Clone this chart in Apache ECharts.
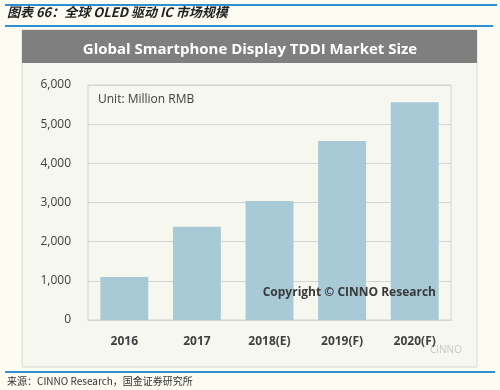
<!DOCTYPE html>
<html><head><meta charset="utf-8">
<script src="https://cdn.jsdelivr.net/npm/echarts@6/dist/echarts.min.js"></script>
<style>html,body{margin:0;padding:0;background:#fdfcf2;}#c{width:500px;height:390px;}</style>
</head><body><div id="c"></div>
<script>
const categories = ['2016','2017','2018(E)','2019(F)','2020(F)'];
const values = [1100, 2380, 3040, 4570, 5560];
const yTicks = [0, 1000, 2000, 3000, 4000, 5000, 6000];

const chart = echarts.init(document.getElementById('c'), null, {renderer:'canvas'});
const font = '"Open Sans", "Noto Sans", sans-serif';
chart.setOption({
  backgroundColor: '#fdfcf2',
  animation: false,
  graphic: [
    {type:'rect', shape:{x:22,y:30,width:455,height:337}, style:{fill:'#f6f7ee', stroke:'#d8d9d4', lineWidth:1}, z:-10},
    {type:'rect', shape:{x:22,y:30,width:455,height:33}, style:{fill:'#7f7f7f'}, z:-9},
    {type:'rect', shape:{x:5,y:4,width:492,height:2}, style:{fill:'#2e8fd3'}},
    {type:'rect', shape:{x:5,y:25,width:488,height:2}, style:{fill:'#2e8fd3'}},
    {type:'rect', shape:{x:5,y:371,width:490,height:2}, style:{fill:'#2e8fd3'}},
    {type:'text', left:7, top:6, style:{text:'图表 66：全球 OLED 驱动 IC 市场规模', font:'italic bold 13px "Noto Sans CJK SC", sans-serif', fill:'#222'}},
    {type:'text', left:7, top:376, style:{text:'来源：CINNO Research，国金证券研究所', font:'10px "Noto Sans CJK SC", sans-serif', fill:'#333'}},
    {type:'text', left:98, top:94, style:{text:'Unit: Million RMB', font:'12px '+font, fill:'#404040'}},
    {type:'text', right:64, top:287, z:10, style:{text:'Copyright © CINNO Research', font:'bold 12px '+font, fill:'#3a3a3a'}},
    {type:'text', left:430, top:345, style:{text:'CINNO', font:'10px '+font, fill:'#c8c8c8'}}
  ],
  title: {
    text: 'Global Smartphone Display TDDI Market Size',
    left: 'center', top: 37,
    textStyle: {color:'#ffffff', fontSize:15, fontWeight:'bold', fontFamily: font}
  },
  grid: {left:88, right:49, top:85, bottom:70, show:true, borderColor:'#d4d4d0', borderWidth:1, backgroundColor:'transparent'},
  xAxis: {
    type:'category', data: categories,
    axisLine:{show:true, lineStyle:{color:'#d4d4d0'}},
    axisTick:{show:false},
    axisLabel:{color:'#404040', fontSize:12, fontWeight:'bold', margin:16, fontFamily:font}
  },
  yAxis: {
    type:'value', min: yTicks[0], max: yTicks[yTicks.length-1], interval: 1000,
    axisLine:{show:false}, axisTick:{show:false},
    splitLine:{lineStyle:{color:'#d4d4d0'}},
    axisLabel:{color:'#404040', fontSize:12, margin:17, fontFamily:font,
      formatter: v => v.toLocaleString('en-US')}
  },
  series: [{
    type:'bar', data: values, barCategoryGap:'34%',
    itemStyle:{color:'#a7cad6'}
  }]
});
</script></body></html>
